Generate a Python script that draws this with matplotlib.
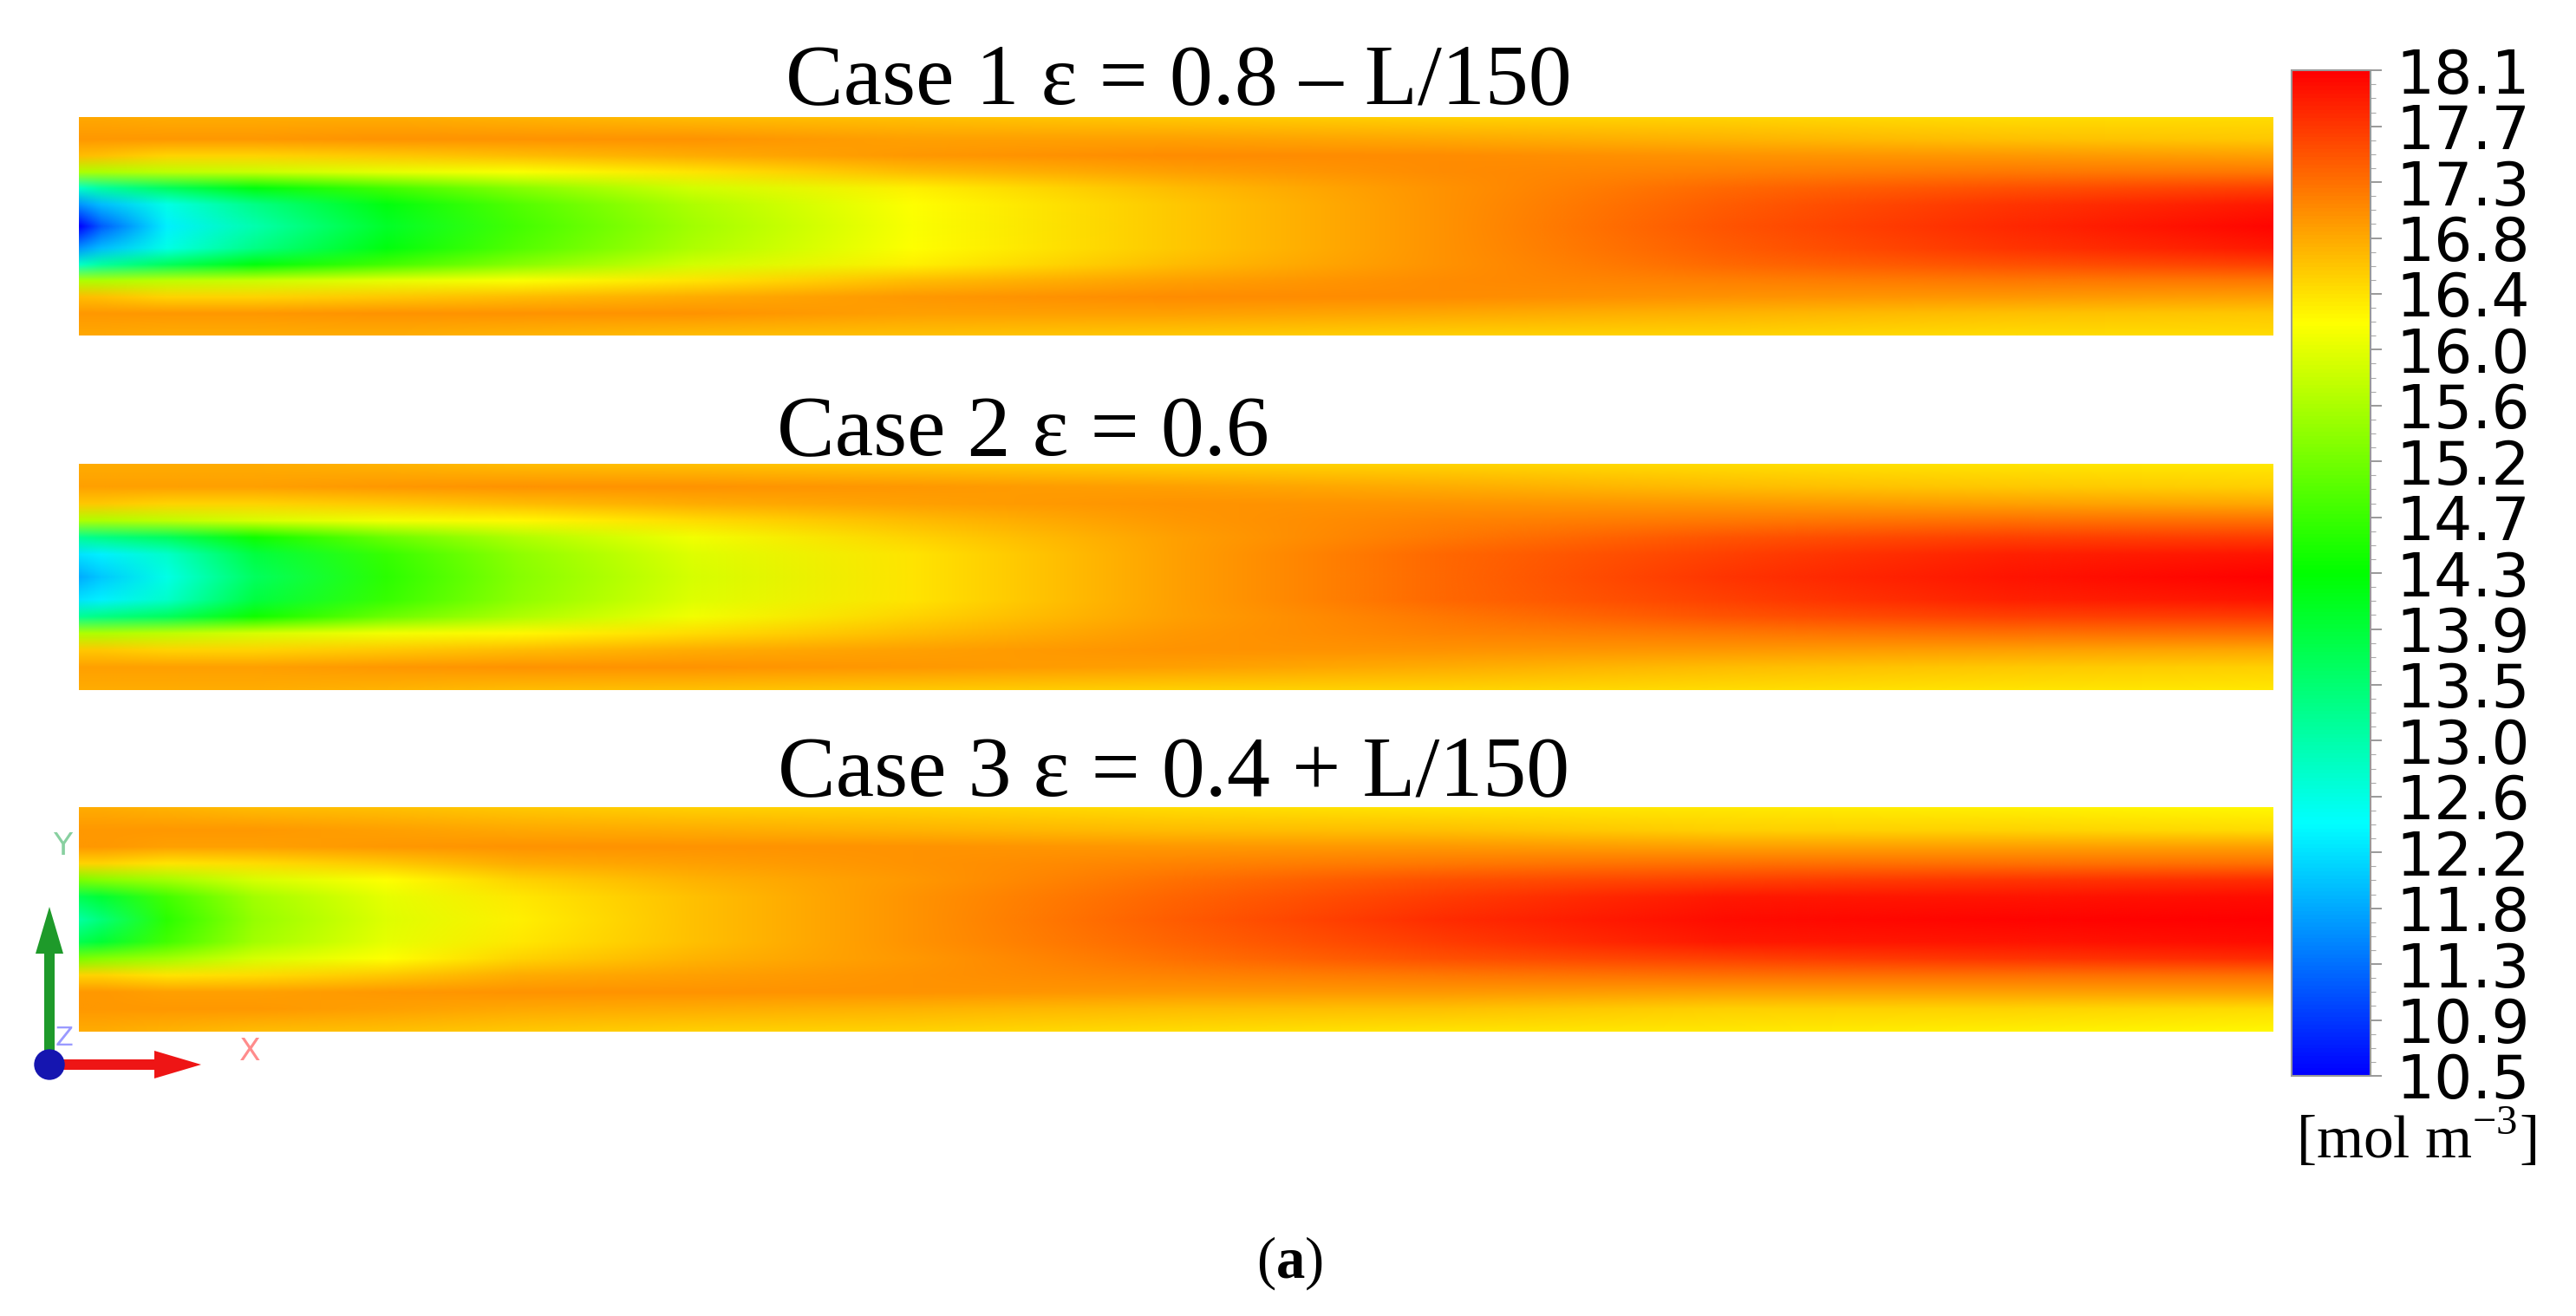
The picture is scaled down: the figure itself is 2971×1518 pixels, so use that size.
import numpy as np
import matplotlib
matplotlib.use("Agg")
import matplotlib.pyplot as plt
from matplotlib.colors import LinearSegmentedColormap, Normalize
from matplotlib.image import NonUniformImage
from matplotlib.patches import FancyArrow, Circle
from matplotlib.cm import ScalarMappable
from matplotlib.ticker import AutoMinorLocator

plt.rcParams['mathtext.fontset'] = 'custom'
plt.rcParams['mathtext.rm'] = 'Liberation Serif'
plt.rcParams['mathtext.bf'] = 'Liberation Serif:bold'

# axial stations (fraction of bed length) and radial stations (centre -> wall)
x_pos = [0, 0.01, 0.04, 0.08, 0.14, 0.2, 0.28, 0.38, 0.5, 0.62, 0.75, 0.88, 1.0]
r_pos = [0, 0.2, 0.35, 0.5, 0.65, 0.8, 1.0]

# concentration [mol m-3]: one row per axial station,
# columns go from the centre line out to the wall
case1 = [
    [10.5, 11.6, 12.8, 15.6, 16.7, 16.95, 16.85],
    [11.2, 11.9, 13.1, 15.6, 16.65, 16.95, 16.85],
    [12.3, 12.6, 13.6, 15.7, 16.5, 16.95, 16.8],
    [13.0, 13.3, 14.2, 15.8, 16.5, 16.95, 16.8],
    [14.0, 14.2, 14.8, 16.0, 16.6, 17.0, 16.8],
    [14.8, 14.9, 15.3, 16.15, 16.7, 17.0, 16.75],
    [15.5, 15.6, 15.85, 16.4, 16.8, 17.0, 16.7],
    [16.15, 16.2, 16.3, 16.7, 16.95, 16.9, 16.65],
    [16.6, 16.6, 16.7, 16.9, 17.05, 16.9, 16.6],
    [17.0, 17.0, 17.0, 17.05, 17.05, 16.85, 16.55],
    [17.45, 17.4, 17.3, 17.15, 17.0, 16.75, 16.5],
    [17.8, 17.7, 17.5, 17.2, 16.95, 16.65, 16.45],
    [18.05, 17.9, 17.6, 17.2, 16.9, 16.6, 16.45],
]
case2 = [
    [11.8, 12.2, 13.2, 15.6, 16.6, 16.9, 16.8],
    [12.0, 12.3, 13.3, 15.6, 16.6, 16.9, 16.8],
    [12.6, 12.8, 13.6, 15.7, 16.5, 16.9, 16.8],
    [13.6, 13.8, 14.4, 15.9, 16.5, 16.9, 16.8],
    [14.6, 14.7, 15.1, 16.1, 16.6, 16.95, 16.75],
    [15.3, 15.35, 15.6, 16.25, 16.7, 17.0, 16.7],
    [15.9, 15.95, 16.1, 16.45, 16.8, 17.0, 16.65],
    [16.4, 16.4, 16.5, 16.7, 16.9, 16.95, 16.6],
    [16.9, 16.9, 16.9, 16.95, 17.0, 16.9, 16.55],
    [17.3, 17.3, 17.2, 17.1, 17.0, 16.8, 16.5],
    [17.7, 17.6, 17.45, 17.2, 16.95, 16.7, 16.45],
    [17.95, 17.85, 17.6, 17.25, 16.9, 16.6, 16.4],
    [18.1, 17.95, 17.65, 17.25, 16.85, 16.55, 16.35],
]
case3 = [
    [13.1, 13.7, 15.2, 16.5, 16.95, 16.95, 16.8],
    [13.4, 13.9, 15.3, 16.5, 16.95, 16.95, 16.8],
    [14.6, 14.8, 15.5, 16.4, 16.9, 16.95, 16.75],
    [15.4, 15.5, 15.9, 16.45, 16.9, 16.95, 16.7],
    [15.95, 16.0, 16.2, 16.6, 16.95, 16.9, 16.65],
    [16.3, 16.35, 16.5, 16.8, 17.0, 16.85, 16.6],
    [16.65, 16.65, 16.75, 16.9, 17.0, 16.8, 16.55],
    [17.0, 17.0, 16.95, 17.0, 17.0, 16.75, 16.5],
    [17.4, 17.35, 17.25, 17.1, 16.95, 16.7, 16.45],
    [17.75, 17.65, 17.5, 17.2, 16.95, 16.65, 16.4],
    [18.0, 17.9, 17.6, 17.25, 16.9, 16.55, 16.35],
    [18.05, 17.95, 17.7, 17.25, 16.9, 16.5, 16.3],
    [18.1, 18.0, 17.75, 17.25, 16.9, 16.45, 16.25],
]
titles = ["Case 1 ε = 0.8 – L/150", "Case 2 ε = 0.6", "Case 3 ε = 0.4 + L/150"]
cbar_labels = ["10.5", "10.9", "11.3", "11.8", "12.2", "12.6", "13.0", "13.5", "13.9", "14.3",
               "14.7", "15.2", "15.6", "16.0", "16.4", "16.8", "17.3", "17.7", "18.1"]
vmin, vmax = 10.5, 18.1

cmap = LinearSegmentedColormap.from_list(
    "cfx_rainbow", [(0, "#0000ff"), (0.25, "#00ffff"), (0.5, "#00ff00"),
                    (0.75, "#ffff00"), (1.0, "#ff0000")])
norm = Normalize(vmin, vmax)

fig = plt.figure(figsize=(29.71, 15.18), dpi=100)

panel_boxes = [[0.0306, 0.745, 0.8516, 0.1655],
               [0.0306, 0.4756, 0.8516, 0.1713],
               [0.0306, 0.2160, 0.8516, 0.1700]]
title_xy = [(0.305, 0.9216), (0.3016, 0.654), (0.302, 0.396)]

r = np.array(r_pos)
y_full = np.concatenate([-r[::-1], r[1:]])

for data, title, box, txy in zip([case1, case2, case3], titles, panel_boxes, title_xy):
    ax = fig.add_axes(box)
    d = np.array(data).T          # (radial, axial), row 0 = centre line
    z = np.vstack([d[::-1], d[1:]])  # mirror about the axis
    im = NonUniformImage(ax, interpolation='bilinear', cmap=cmap, norm=norm,
                         extent=(0, 1, -1, 1))
    im.set_data(np.array(x_pos), y_full, z)
    ax.add_image(im)
    ax.set_xlim(0, 1)
    ax.set_ylim(-1, 1)
    ax.axis('off')
    fig.text(txy[0], txy[1], title, fontsize=72, family='Liberation Serif',
             va='baseline', ha='left')

# colour bar
cax = fig.add_axes([0.8896, 0.1825, 0.0307, 0.764])
cb = fig.colorbar(ScalarMappable(norm=norm, cmap=cmap), cax=cax)
cb.set_ticks(np.linspace(vmin, vmax, len(cbar_labels)), labels=cbar_labels)
cax.yaxis.set_minor_locator(AutoMinorLocator(4))
cax.tick_params(which='major', labelsize=50, length=9, width=1.2, color='#888888', pad=12)
cax.tick_params(which='minor', length=4, width=0.8, color='#aaaaaa')
cb.outline.set_edgecolor('#999999')
cb.outline.set_linewidth(1.5)

fig.text(0.938, 0.12, '[mol m$^{-3}$]', ha='center', va='baseline',
         fontsize=50, family='Liberation Serif')
fig.text(0.5006, 0.029, r'($\mathbf{a}$)', ha='center', va='baseline',
         fontsize=48, family='Liberation Serif')

# coordinate triad in the lower left corner (pixel coordinates)
ov = fig.add_axes([0, 0, 1, 1], zorder=5)
ov.set_xlim(0, 2971)
ov.set_ylim(1518, 0)
ov.axis('off')
ov.patch.set_alpha(0)
ov.add_patch(FancyArrow(57, 1228, 0, -182, width=12, head_width=32, head_length=54,
                        length_includes_head=True, color='#1e9a2a', lw=0))
ov.add_patch(FancyArrow(57, 1228, 175, 0, width=12, head_width=32, head_length=54,
                        length_includes_head=True, color='#ee1515', lw=0))
ov.add_patch(Circle((57, 1228), 17, color='#1515b0'))
ov.text(72, 976, 'Y', color='#88d0a0', fontsize=26, ha='center', va='center')
ov.text(288, 1213, 'X', color='#ff8c8c', fontsize=26, ha='center', va='center')
ov.text(74, 1198, 'Z', color='#9a9aff', fontsize=22, ha='center', va='center')

fig.savefig('out.png', dpi=100)
